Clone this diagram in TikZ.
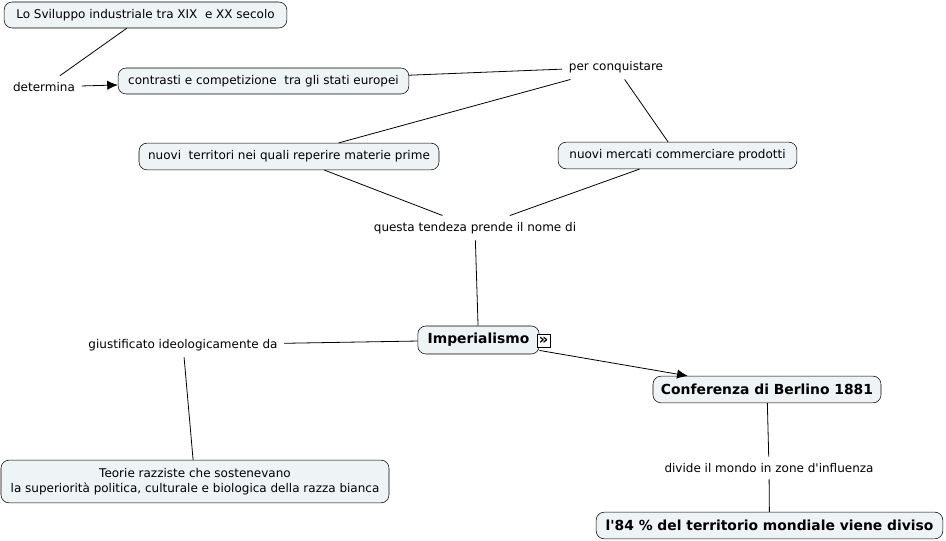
\documentclass[tikz,border=0pt]{standalone}
\usepackage{fontspec}
\setmainfont{DejaVu Sans}
\usetikzlibrary{positioning,arrows.meta}
\definecolor{cmapfill}{HTML}{EEF3F5}

\begin{document}
\begin{tikzpicture}[
  x=0.75pt, y=-0.75pt,
  concept/.style={draw,rounded corners=6pt,fill=cmapfill,inner sep=2pt,align=center,
    font=\fontsize{9}{11.2}\selectfont},
  bigconcept/.style={concept,font=\fontsize{10.4}{12}\selectfont\bfseries},
  linkphrase/.style={inner sep=1pt,outer sep=4pt,font=\fontsize{9}{10}\selectfont},
  link/.style={draw,line width=0.6pt},
  arrowlink/.style={link,-{Latex[length=8pt,width=7pt]}}
]
\useasboundingbox (0,0) rectangle (946,541);

% concetti
\node[concept,minimum width=212pt,minimum height=19.5pt] (sviluppo) at (145.5,15) {Lo Sviluppo industriale tra XIX~~e XX secolo};
\node[concept,minimum width=218pt,minimum height=19.5pt] (contrasti) at (263.5,81) {contrasti e competizione~~tra gli stati europei};
\node[concept,minimum width=225pt,minimum height=20pt] (territori) at (289,156.5) {nuovi~~territori nei quali reperire materie prime};
\node[concept,minimum width=179pt,minimum height=20pt] (mercati) at (677.5,155.5) {nuovi mercati commerciare prodotti};
\node[bigconcept,minimum width=91pt,minimum height=21pt] (imper) at (478.5,340) {Imperialismo};
\node[draw,fill=white,inner sep=0pt,minimum size=9.5pt,font=\fontsize{11}{11}\selectfont\bfseries] (impicon) at (543.5,341) {»};
\node[bigconcept,minimum width=171pt,minimum height=20pt] (berlino) at (767,389.5) {Conferenza di Berlino 1881};
\node[concept,minimum width=291pt,minimum height=32pt] (teorie) at (195,481.5) {Teorie razziste che sostenevano\\la superiorità politica, culturale e biologica della razza bianca};
\node[bigconcept,minimum width=260pt,minimum height=20pt] (diviso) at (769.5,525.5) {l\textquotesingle 84 \% del territorio mondiale viene diviso};

% frasi legame
\node[linkphrase] (determina) at (44,87) {determina};
\node[linkphrase] (conquistare) at (616,67) {per conquistare};
\node[linkphrase] (tendenza) at (475,228) {questa tendeza prende il nome di};
\node[linkphrase] (giustificato) at (183,345) {giustificato ideologicamente da};
\node[linkphrase] (divide) at (769,468) {divide il mondo in zone d\textquotesingle influenza};

% collegamenti
\path[link] (sviluppo) -- (determina);
\path[arrowlink] (determina) -- (contrasti);
\path[link] (contrasti) -- (conquistare);
\path[link] (conquistare) -- (territori);
\path[link] (conquistare) -- (mercati);
\path[link] (territori) -- (tendenza);
\path[link] (mercati) -- (tendenza);
\path[link] (tendenza) -- (imper);
\path[link] (imper) -- (giustificato);
\path[link] (giustificato) -- (teorie);
\path[arrowlink] (imper) -- (berlino);
\path[link] (berlino) -- (divide);
\path[link] (divide) -- (diviso);

\end{tikzpicture}
\end{document}
